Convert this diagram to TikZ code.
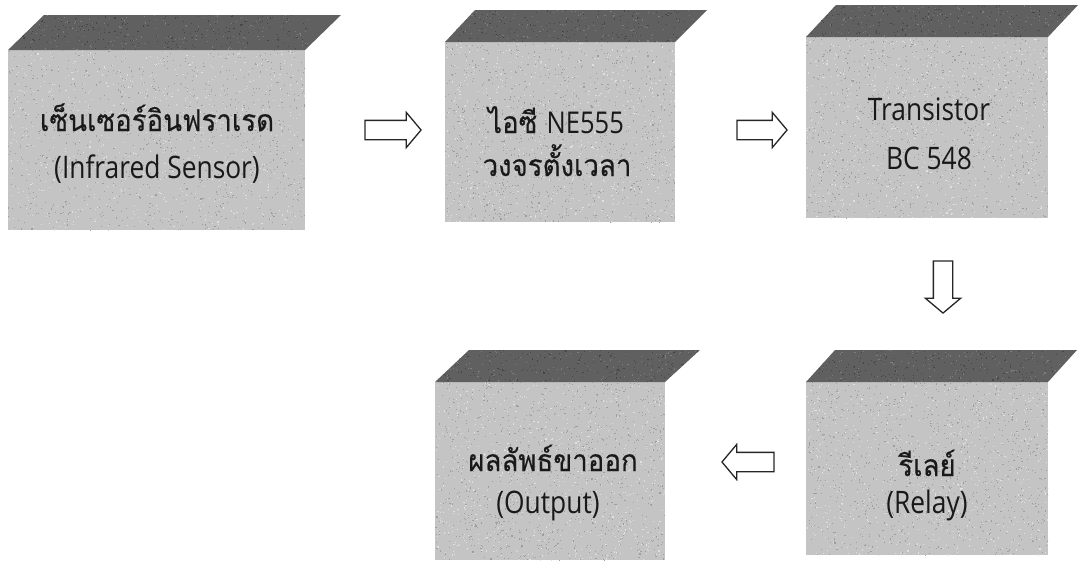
\documentclass[tikz,border=0pt]{standalone}
\usepackage{fontspec}
\usetikzlibrary{shapes.arrows,calc}
\newfontfamily\thaifont[Script=Thai,FakeStretch=0.92,FakeBold=0.3]{Loma}
\newfontfamily\latfont[FakeStretch=0.85]{Open Sans}
\definecolor{frontgray}{RGB}{196,196,196}
\definecolor{topgray}{RGB}{96,96,96}
\definecolor{speckdark}{RGB}{158,158,158}
\definecolor{specklight}{RGB}{224,224,224}
\definecolor{topdark}{RGB}{70,70,70}
\definecolor{toplight}{RGB}{125,125,125}
\definecolor{inkgray}{RGB}{25,25,25}
\tikzset{
  front/.style={fill=frontgray, draw=none, inner sep=0pt, outer sep=0pt},
  topface/.style={fill=topgray, draw=none},
  thaitxt/.style={anchor=base, inner sep=0pt, text=inkgray, font=\thaifont\fontsize{30}{36}\selectfont},
  lattxt/.style={anchor=base, inner sep=0pt, text=inkgray, font=\latfont\fontsize{31}{36}\selectfont},
  blockarrow/.style={single arrow, draw=black!85, line width=1.3pt, fill=white,
    inner sep=9pt, single arrow head extend=8pt, single arrow tip angle=100},
}
% speckled texture clipped to a front face: node, width, height
\newcommand\speckface[3]{%
  \begin{scope}
  \clip (#1.north west) rectangle (#1.south east);
  \foreach \k in {1,...,900}{\fill[speckdark] ($(#1.north west)+(rnd*#2,rnd*#3)$) rectangle ++(1.1,1.1);}
  \foreach \k in {1,...,700}{\fill[specklight] ($(#1.north west)+(rnd*#2,rnd*#3)$) rectangle ++(1.1,1.1);}
  \end{scope}
}
% top face with texture: node, dx left, dx right, dy
\newcommand\topslab[4]{%
  \fill[topface] (#1.north west) -- ++(#2,-#4) -- ($(#1.north east)+(#3,-#4)$) -- (#1.north east) -- cycle;
  \begin{scope}
  \clip (#1.north west) -- ++(#2,-#4) -- ($(#1.north east)+(#3,-#4)$) -- (#1.north east) -- cycle;
  \foreach \k in {1,...,220}{\fill[topdark] ($(#1.north west)+(rnd*300,-rnd*#4)$) rectangle ++(1.1,1.1);}
  \foreach \k in {1,...,160}{\fill[toplight] ($(#1.north west)+(rnd*300,-rnd*#4)$) rectangle ++(1.1,1.1);}
  \end{scope}
}
\begin{document}
\begin{tikzpicture}[x=1pt,y=-1pt]
\useasboundingbox (0,0) rectangle (1078,560);
\pgfmathsetseed{1234}
% boxes (front faces)
\node[front, minimum width=297pt, minimum height=180pt] (f1) at (156.5,140) {};
\node[front, minimum width=230pt, minimum height=180pt] (f2) at (560,132) {};
\node[front, minimum width=242pt, minimum height=181pt] (f3) at (927,127.5) {};
\node[front, minimum width=230pt, minimum height=178pt] (f4) at (550,471) {};
\node[front, minimum width=242pt, minimum height=173pt] (f5) at (927,468.5) {};
\speckface{f1}{297}{180}
\speckface{f2}{230}{180}
\speckface{f3}{242}{181}
\speckface{f4}{230}{178}
\speckface{f5}{242}{173}
% top faces
\topslab{f1}{36}{36}{35}
\topslab{f2}{30}{32}{32}
\topslab{f3}{30}{30}{32}
\topslab{f4}{34}{35}{32}
\topslab{f5}{29}{29}{32}
% texts
\node[thaitxt] (t1a) at (157,131) {เซ็นเซอร์อินฟราเรด};
\node[lattxt]  (t1b) at (157,178) {(Infrared Sensor)};
\node[thaitxt] (t2a) at (556,133) {ไอซี {\latfont NE555}};
\node[thaitxt] (t2b) at (557,176) {วงจรตั้งเวลา};
\node[lattxt]  (t3a) at (929,120) {Transistor};
\node[lattxt]  (t3b) at (929,169) {BC 548};
\node[thaitxt] (t4a) at (553,471) {ผลลัพธ์ขาออก};
\node[lattxt]  (t4b) at (548,513) {(Output)};
\node[thaitxt] (t5a) at (927,476) {รีเลย์};
\node[lattxt]  (t5b) at (927,513) {(Relay)};
% block arrows between the boxes
\node[blockarrow, minimum height=56pt] (a1) at (389,130) {};
\node[blockarrow, minimum height=50pt] (a2) at (758,130) {};
\node[blockarrow, minimum height=52pt, shape border rotate=270] (a3) at (943,283) {};
\node[blockarrow, minimum height=52pt, shape border rotate=180] (a4) at (752,462) {};
\end{tikzpicture}
\end{document}
